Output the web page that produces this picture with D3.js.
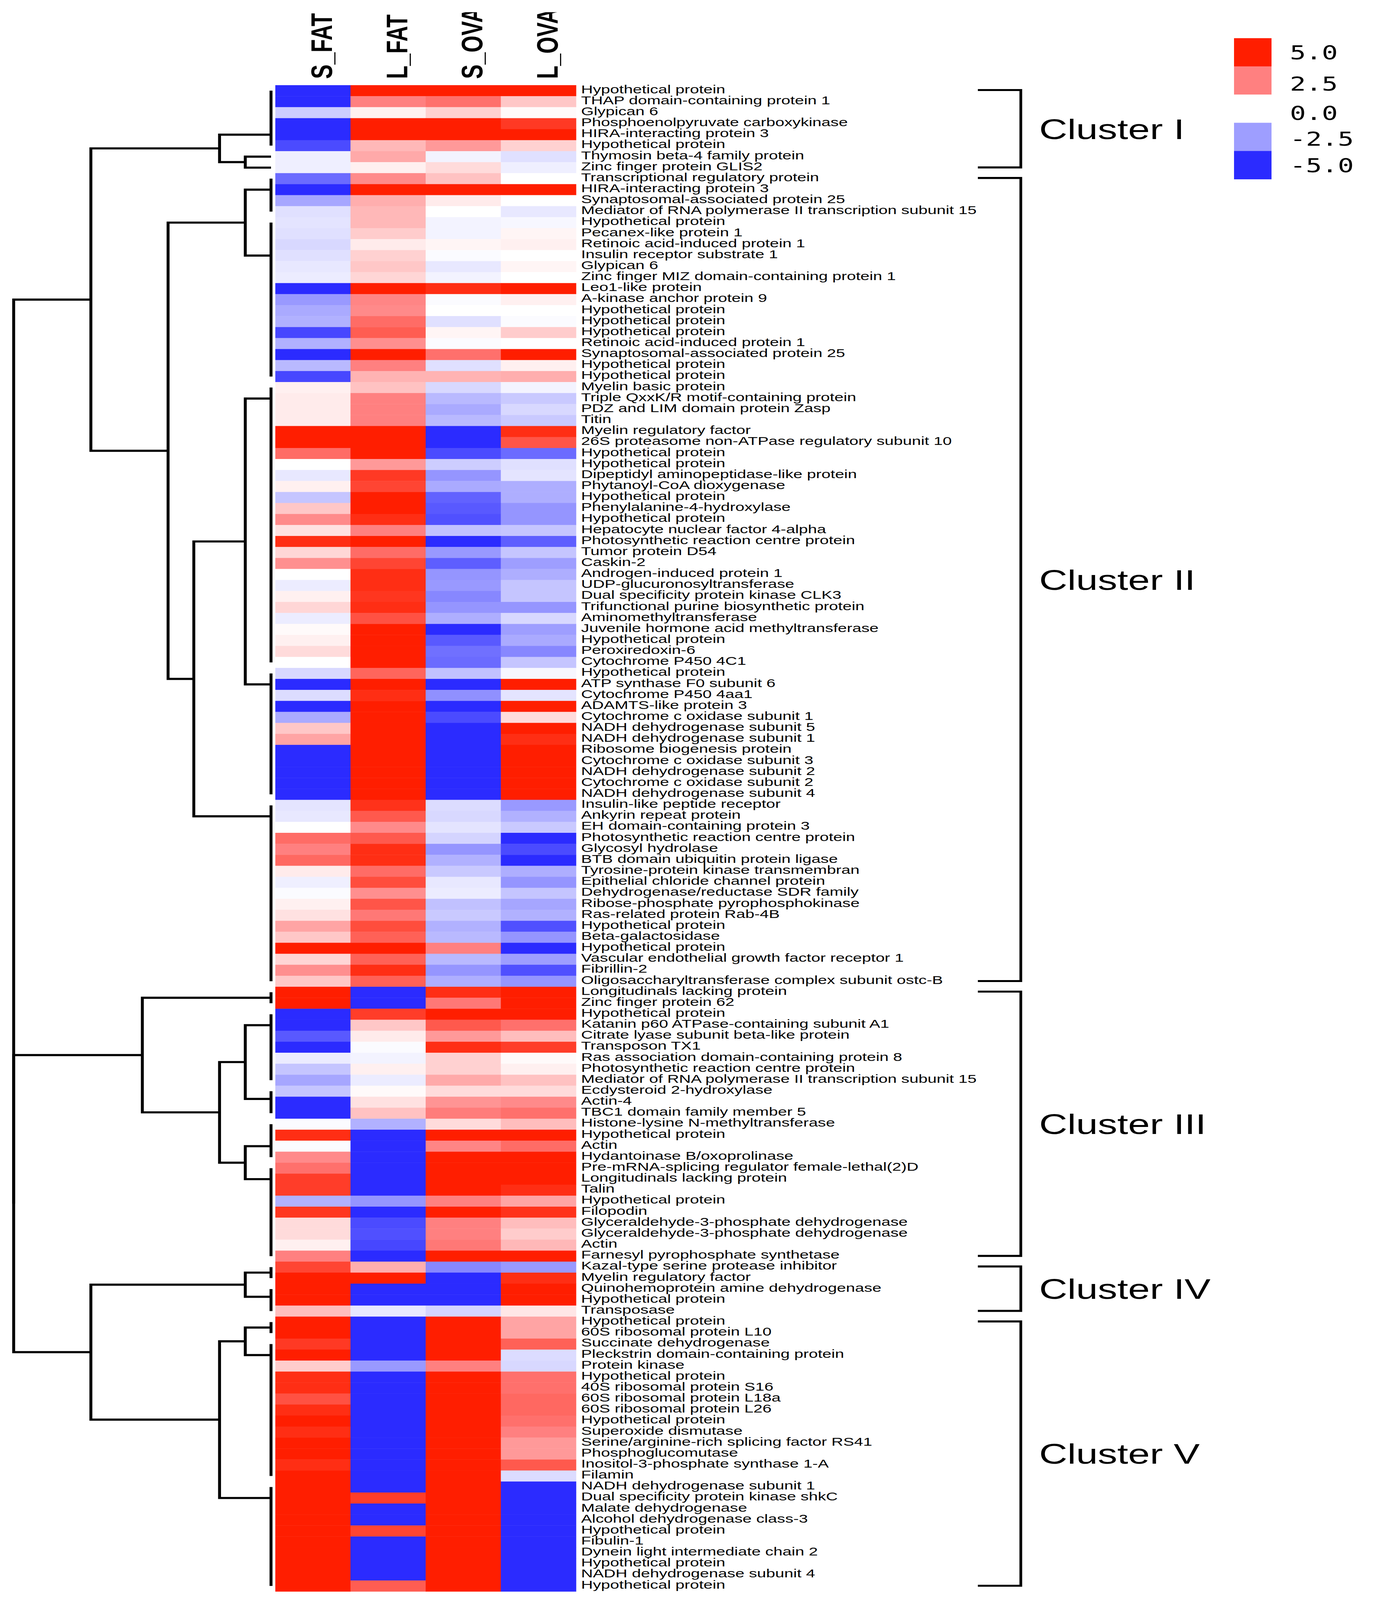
<!DOCTYPE html>
<html>
<head>
<meta charset="utf-8">
<script src="https://cdn.jsdelivr.net/npm/d3@7"></script>
<style>
  html, body { margin: 0; padding: 0; background: #fff; overflow: hidden; }
  svg { display: block; width: 100vw; height: 100vh; }
</style>
</head>
<body>
<svg id="svg"></svg>
<script>
// ---- //
// Data //
// ---- //

const samples = ["S_FAT", "L_FAT", "S_OVA", "L_OVA"];

const proteins = [
  "Hypothetical protein", "THAP domain-containing protein 1", "Glypican 6", "Phosphoenolpyruvate carboxykinase",
  "HIRA-interacting protein 3", "Hypothetical protein", "Thymosin beta-4 family protein", "Zinc finger protein GLIS2",
  "Transcriptional regulatory protein", "HIRA-interacting protein 3", "Synaptosomal-associated protein 25",
  "Mediator of RNA polymerase II transcription subunit 15", "Hypothetical protein", "Pecanex-like protein 1",
  "Retinoic acid-induced protein 1", "Insulin receptor substrate 1", "Glypican 6", "Zinc finger MIZ domain-containing protein 1",
  "Leo1-like protein", "A-kinase anchor protein 9", "Hypothetical protein", "Hypothetical protein", "Hypothetical protein",
  "Retinoic acid-induced protein 1", "Synaptosomal-associated protein 25", "Hypothetical protein", "Hypothetical protein",
  "Myelin basic protein", "Triple QxxK/R motif-containing protein", "PDZ and LIM domain protein Zasp", "Titin",
  "Myelin regulatory factor", "26S proteasome non-ATPase regulatory subunit 10", "Hypothetical protein", "Hypothetical protein",
  "Dipeptidyl aminopeptidase-like protein", "Phytanoyl-CoA dioxygenase", "Hypothetical protein", "Phenylalanine-4-hydroxylase",
  "Hypothetical protein", "Hepatocyte nuclear factor 4-alpha", "Photosynthetic reaction centre protein", "Tumor protein D54",
  "Caskin-2", "Androgen-induced protein 1", "UDP-glucuronosyltransferase", "Dual specificity protein kinase CLK3",
  "Trifunctional purine biosynthetic protein", "Aminomethyltransferase", "Juvenile hormone acid methyltransferase",
  "Hypothetical protein", "Peroxiredoxin-6", "Cytochrome P450 4C1", "Hypothetical protein", "ATP synthase F0 subunit 6",
  "Cytochrome P450 4aa1", "ADAMTS-like protein 3", "Cytochrome c oxidase subunit 1", "NADH dehydrogenase subunit 5",
  "NADH dehydrogenase subunit 1", "Ribosome biogenesis protein", "Cytochrome c oxidase subunit 3", "NADH dehydrogenase subunit 2",
  "Cytochrome c oxidase subunit 2", "NADH dehydrogenase subunit 4", "Insulin-like peptide receptor", "Ankyrin repeat protein",
  "EH domain-containing protein 3", "Photosynthetic reaction centre protein", "Glycosyl hydrolase", "BTB domain ubiquitin protein ligase",
  "Tyrosine-protein kinase transmembran", "Epithelial chloride channel protein", "Dehydrogenase/reductase SDR family",
  "Ribose-phosphate pyrophosphokinase", "Ras-related protein Rab-4B", "Hypothetical protein", "Beta-galactosidase",
  "Hypothetical protein", "Vascular endothelial growth factor receptor 1", "Fibrillin-2", "Oligosaccharyltransferase complex subunit ostc-B",
  "Longitudinals lacking protein", "Zinc finger protein 62", "Hypothetical protein", "Katanin p60 ATPase-containing subunit A1",
  "Citrate lyase subunit beta-like protein", "Transposon TX1", "Ras association domain-containing protein 8",
  "Photosynthetic reaction centre protein", "Mediator of RNA polymerase II transcription subunit 15", "Ecdysteroid 2-hydroxylase",
  "Actin-4", "TBC1 domain family member 5", "Histone-lysine N-methyltransferase", "Hypothetical protein", "Actin",
  "Hydantoinase B/oxoprolinase", "Pre-mRNA-splicing regulator female-lethal(2)D", "Longitudinals lacking protein", "Talin",
  "Hypothetical protein", "Filopodin", "Glyceraldehyde-3-phosphate dehydrogenase", "Glyceraldehyde-3-phosphate dehydrogenase",
  "Actin", "Farnesyl pyrophosphate synthetase", "Kazal-type serine protease inhibitor", "Myelin regulatory factor",
  "Quinohemoprotein amine dehydrogenase", "Hypothetical protein", "Transposase", "Hypothetical protein", "60S ribosomal protein L10",
  "Succinate dehydrogenase", "Pleckstrin domain-containing protein", "Protein kinase", "Hypothetical protein",
  "40S ribosomal protein S16", "60S ribosomal protein L18a", "60S ribosomal protein L26", "Hypothetical protein",
  "Superoxide dismutase", "Serine/arginine-rich splicing factor RS41", "Phosphoglucomutase", "Inositol-3-phosphate synthase 1-A",
  "Filamin", "NADH dehydrogenase subunit 1", "Dual specificity protein kinase shkC", "Malate dehydrogenase",
  "Alcohol dehydrogenase class-3", "Hypothetical protein", "Fibulin-1", "Dynein light intermediate chain 2",
  "Hypothetical protein", "NADH dehydrogenase subunit 4", "Hypothetical protein"
];

// log2 fold values, one array per sample column
const sFat = [
  -5, -5, -1.3, -5, -5, -4.3, -0.4, -0.4,
  -3.6, -5, -2.3, -0.8, -0.7, -0.8, -1.0, -0.8, -0.6, -0.5, -5, -2.6, -2.2, -2.0, -4.4, -2.0, -5, -1.8, -4.4,
  0.3, 0.4, 0.4, 0.4, 5, 5, 3.0, 0, -0.6, 0.3, -1.5, 1.1, 2.3, 0.6, 4.6, 0.8, 2.2, 0, -0.5, 0.3, 0.8, -0.5, 0.1, 0.3, 0.7, 0,
  -1.0, -5, -0.9, -5, -2.2, 1.1, 1.8, -5, -5, -5, -5, -5,
  -0.7, -0.6, 0, 3.0, 2.5, 3.1, 0.4, -0.4, -0.1, 0.3, 0.6, 1.8, 1.1, 5, 0.8, 2.2, 1.1,
  5, 5, -5, -5, -4.0, -5, -0.5, -1.5, -2.3, -1.5, -5, -5, -0.1, 4.6, -0.1, 2.3, 2.9, 4.2, 4.2, -2.0, 4.4, 0.7, 0.7, 0.3, 2.5,
  4.0, 5, 5, 5, 1.3,
  5, 5, 4.3, 5, 1.0, 4.6, 4.6, 3.7, 4.6, 5, 4.6, 5, 5, 4.6, 5, 5, 5, 5, 5, 5, 5, 5, 5, 5, 5
];
const lFat = [
  5, 2.5, 0.3, 5, 5, 1.4, 1.7, 0.3,
  2.3, 5, 1.6, 1.4, 1.4, 1.0, 0.4, 0.9, 1.1, 0.8, 5, 2.4, 2.3, 3.0, 3.4, 2.2, 5, 2.5, 1.5,
  1.2, 2.5, 2.5, 2.5, 5, 5, 5, 2.0, 4.3, 4.0, 5, 5, 4.6, 2.5, 5, 3.0, 4.0, 4.6, 4.6, 4.4, 4.6, 3.7, 5, 5, 5, 5,
  3.2, 5, 4.6, 5, 5, 5, 5, 5, 5, 5, 5, 5,
  4.5, 3.5, 2.3, 3.5, 4.6, 4.6, 3.0, 3.8, 2.2, 3.6, 2.7, 3.8, 3.3, 5, 3.3, 4.6, 3.3,
  -5, -5, 4.2, 1.1, 0.4, -0.1, -0.3, 0.3, -0.5, 0.1, 0.6, 1.2, -2.0, -5, -5, -5, -5, -5, -5, -2.7, -5, -4.3, -4.2, -4.4, -5,
  1.6, 5, -5, -5, -0.6,
  -5, -5, -5, -5, -2.6, -5, -5, -5, -5, -5, -5, -5, -5, -5, -5, -5, 4.2, -5, -5, 4.0, -5, -5, -5, -5, 3.4
];
const sOva = [
  5, 2.9, 0.9, 5, 5, 2.0, -0.3, 0.7,
  1.2, 5, 0.4, 0, -0.3, -0.3, 0.2, -0.1, -0.6, -0.3, 4.6, -0.1, 0, -0.8, 0.2, -0.1, 2.9, -0.8, 1.5,
  -1.0, -1.8, -2.2, -1.8, -5, -5, -4.3, -1.3, -2.7, -2.2, -3.8, -4.0, -4.2, -1.6, -5, -2.6, -3.9, -2.7, -2.6, -3.0, -2.7, -2.1, -5, -4.0, -3.5, -3.6,
  -1.6, -5, -2.8, -5, -4.3, -5, -5, -5, -5, -5, -5, -5,
  -0.9, -1.0, -0.7, -1.1, -2.7, -2.0, -1.4, -0.6, -0.5, -1.6, -1.4, -2.0, -1.8, 2.5, -1.8, -2.7, -2.1,
  4.6, 2.7, 5, 3.5, 2.0, 4.6, 0.9, 0.9, 1.7, 0.7, 2.1, 2.6, 0.7, 5, 2.4, 5, 5, 5, 5, 2.5, 5, 2.5, 2.5, 2.7, 5,
  -3.0, -5, -5, -5, -1.1,
  5, 5, 5, 5, 2.5, 5, 5, 5, 5, 5, 5, 5, 5, 5, 5, 5, 5, 5, 5, 5, 5, 5, 5, 5, 5
];
const lOva = [
  5, 1.1, 0.1, 4.3, 5, 0.9, -0.8, -0.4,
  0, 5, 0, -0.6, -0.2, 0.2, 0.3, 0, 0.2, 0, 5, 0.3, 0, -0.1, 1.0, 0, 5, 0.3, 1.6,
  -0.3, -1.4, -1.0, -1.4, 4.6, 3.6, -3.6, -0.8, -0.7, -2.1, -2.1, -2.7, -2.7, -1.5, -3.9, -1.5, -2.5, -2.1, -1.5, -1.5, -2.7, -1.0, -2.5, -2.2, -3.0, -1.5,
  -0.2, 5, -0.7, 5, 0.7, 5, 4.6, 5, 5, 5, 5, 5,
  -2.6, -2.0, -1.4, -5, -4.3, -5, -2.1, -2.7, -1.5, -2.3, -2.0, -4.2, -2.7, -5, -2.5, -4.2, -2.7,
  5, 5, 5, 2.9, 1.3, 4.2, 0.1, 0.3, 1.2, 0.7, 2.3, 2.9, 1.3, 5, 3.0, 5, 5, 5, 4.6, 1.8, 4.5, 1.3, 1.0, 1.4, 5,
  -2.6, 4.6, 5, 5, 0.5,
  1.8, 1.8, 3.3, -0.9, -1.0, 2.9, 2.9, 3.1, 3.1, 2.9, 2.5, 2.0, 2.0, 3.5, -0.9, -5, -5, -5, -5, -5, -5, -5, -5, -5, -5
];
const columns = [sFat, lFat, sOva, lOva];

const clusterNames = ["Cluster I", "Cluster II", "Cluster III", "Cluster IV", "Cluster V"];
const clusterFirst = [0, 8, 82, 107, 112];
const clusterLast = [7, 81, 106, 111, 136];

const legendValues = [5.0, 2.5, 0.0, -2.5, -5.0];

// dendrogram: flat leaf groups [first row, last row, row the branch joins at]
const leafGroups = [
  [0, 5, 4], [6, 6, 6], [7, 7, 7], [8, 11, 9], [12, 26, 15], [27, 52, 28], [53, 64, 54], [65, 81, 66],
  [82, 83, 82.5], [84, 90, 85], [91, 93, 91.7], [94, 97, 96], [98, 106, 99],
  [107, 108, 107.5], [109, 111, 109.7], [112, 113, 112.5], [114, 126, 115], [127, 136, 128]
];
// merge tree over the groups, h = merge height
const tree = { h: 10, c: [
  { h: 7, c: [
    { h: 2, c: [0, { h: 1, c: [1, 2] }] },
    { h: 4, c: [
      { h: 1, c: [3, 4] },
      { h: 3, c: [{ h: 1, c: [5, 6] }, 7] }
    ] }
  ] },
  { h: 10, c: [
    { h: 5, c: [8, { h: 2, c: [{ h: 1, c: [9, 10] }, { h: 1, c: [11, 12] }] }] },
    { h: 7, c: [
      { h: 1, c: [13, 14] },
      { h: 2, c: [{ h: 1, c: [15, 16] }, 17] }
    ] }
  ] }
] };

// ------ //
// Scales //
// ------ //

const W = 3521, H = 5617;
// the window is capped in height, so stretch the 3521x5617 drawing over it
const svg = d3.select("#svg")
  .attr("viewBox", `0 0 ${W} ${H}`)
  .attr("preserveAspectRatio", "none");
svg.append("rect").attr("width", W).attr("height", H).attr("fill", "#fff");

const x = d3.scaleBand().domain(samples).range([705, 1475]);
const y = d3.scaleBand().domain(d3.range(proteins.length)).range([299, 5587]);
const rowMid = i => y.range()[0] + y.step() * (i + 0.5);
const color = d3.scaleLinear()
  .domain([-5, -2.5, 0, 2.5, 5])
  .range(["#2b2bff", "#9e9eff", "#ffffff", "#ff8080", "#ff1e00"])
  .clamp(true);
const hx = d3.scaleLinear().domain([0, 10]).range([694, 35]);

// ------- //
// Heatmap //
// ------- //

const cells = [];
proteins.forEach((p, i) => samples.forEach((s, j) => cells.push({ row: i, sample: s, v: columns[j][i] })));

svg.append("g")
  .selectAll("rect")
  .data(cells)
  .join("rect")
  .attr("x", d => x(d.sample))
  .attr("y", d => y(d.row))
  .attr("width", x.bandwidth() + 0.6)
  .attr("height", y.bandwidth() + 0.6)
  .attr("fill", d => color(d.v));

// column headers, clipped at the top like the original
svg.append("clipPath").attr("id", "hclip")
  .append("rect").attr("x", 600).attr("y", 43).attr("width", 1000).attr("height", 260);

svg.append("g")
  .attr("clip-path", "url(#hclip)")
  .selectAll("text")
  .data(samples)
  .join("text")
  .attr("transform", d => `translate(${x(d) + x.bandwidth() / 2 + 49},277) rotate(-90)`)
  .attr("font-family", "'Liberation Sans', Arial, sans-serif")
  .attr("font-weight", "bold")
  .attr("font-size", 76)
  .text(d => d);

// row labels (the original type is a touch wider than Arial)
svg.append("g")
  .attr("transform", "translate(1488,0) scale(1.045,1)")
  .selectAll("text")
  .data(proteins)
  .join("text")
  .attr("x", 0)
  .attr("y", (d, i) => rowMid(i) + 9)
  .attr("font-family", "'Liberation Sans', Arial, sans-serif")
  .attr("font-size", 40)
  .text(d => d);

// ---------- //
// Dendrogram //
// ---------- //

const root = d3.hierarchy(tree, d => (typeof d === "number" ? null : d.c));
root.eachAfter(n => {
  if (!n.children) {
    n.px = hx(0);
    n.py = rowMid(leafGroups[n.data][2]);
  } else {
    n.px = hx(n.data.h);
    n.py = d3.mean(n.children, c => c.py);
  }
});

const dendro = svg.append("g")
  .attr("fill", "none")
  .attr("stroke", "#000")
  .attr("stroke-width", 7.5);

// flat groups: vertical bars at height 0
dendro.selectAll("line")
  .data(leafGroups.filter(g => g[1] > g[0]))
  .join("line")
  .attr("x1", hx(0)).attr("x2", hx(0))
  .attr("y1", g => rowMid(g[0]))
  .attr("y2", g => rowMid(g[1]));

// elbows
dendro.selectAll("path")
  .data(root.descendants().filter(n => n.children))
  .join("path")
  .attr("d", n => {
    const [a, b] = n.children;
    return `M${a.px},${a.py}H${n.px}V${b.py}H${b.px}`;
  });

// -------- //
// Clusters //
// -------- //

const brackets = svg.append("g");
clusterNames.forEach((name, k) => {
  const top = y(clusterFirst[k]) + 17;
  const bot = y(clusterLast[k]) + y.step() - 20;
  brackets.append("path")
    .attr("d", `M2504,${top}H2614V${bot}H2504`)
    .attr("fill", "none")
    .attr("stroke", "#000")
    .attr("stroke-width", 7);
  brackets.append("text")
    .attr("x", 2661)
    .attr("y", (top + bot) / 2 + 36)
    .attr("font-family", "'Liberation Sans', Arial, sans-serif")
    .attr("font-size", 100)
    .text(name);
});

// ------ //
// Legend //
// ------ //

const legend = svg.append("g");
const ly = d3.scaleBand().domain(legendValues).range([134, 629]);
// labels in the original sit a little below the middle swatches
const nudge = [0, 10, 15, 6, 0];
legend.selectAll("rect")
  .data(legendValues)
  .join("rect")
  .attr("x", 3160)
  .attr("y", d => ly(d))
  .attr("width", 96)
  .attr("height", ly.bandwidth() + 0.5)
  .attr("fill", d => color(d));
legend.selectAll("text")
  .data(legendValues)
  .join("text")
  .attr("x", 3303)
  .attr("y", (d, i) => ly(d) + ly.bandwidth() / 2 + 25 + nudge[i])
  .attr("font-family", "'DejaVu Sans Mono', monospace")
  .attr("font-size", 68)
  .text(d => d.toFixed(1));
</script>
</body>
</html>
